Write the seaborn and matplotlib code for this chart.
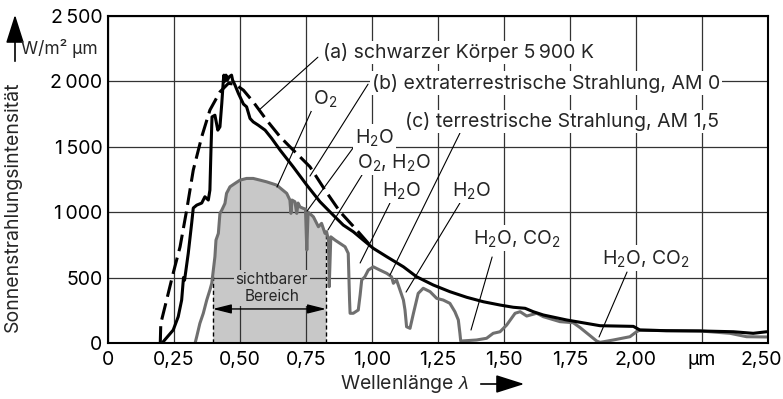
import numpy as np
import pandas as pd
import matplotlib
matplotlib.use("Agg")
import matplotlib.pyplot as plt
import matplotlib.transforms as mtransforms
import seaborn as sns

# wavelength (µm) and spectral intensity (W/m² µm)
bb_wl = [0.198, 0.200, 0.222, 0.247, 0.273, 0.298, 0.323, 0.355, 0.386, 0.424, 0.456,
         0.481, 0.513, 0.550, 0.601, 0.652, 0.689, 0.765, 0.822, 0.879, 0.942, 0.992]
bb_int = [0, 150, 328, 534, 735, 1015, 1321, 1575, 1779, 1918, 1983,
          1977, 1931, 1842, 1702, 1575, 1499, 1346, 1168, 1002, 863, 748]

am0_wl = [0.205, 0.247, 0.266, 0.279, 0.286, 0.290, 0.304, 0.317, 0.323, 0.336, 0.355,
          0.367, 0.380, 0.386, 0.390, 0.394, 0.405, 0.416, 0.424, 0.431, 0.437, 0.439,
          0.443, 0.447, 0.452, 0.459, 0.468, 0.472, 0.481, 0.494, 0.513, 0.525, 0.538,
          0.550, 0.569, 0.595, 0.620, 0.652, 0.702, 0.753, 0.803, 0.853, 0.891, 0.929,
          0.967, 1.005, 1.056, 1.119, 1.169, 1.232, 1.295, 1.359, 1.422, 1.485, 1.535,
          1.580, 1.611, 1.649, 1.737, 1.864, 1.990, 2.015, 2.116, 2.242, 2.369, 2.444, 2.495]
am0_int = [0, 99, 201, 328, 500, 480, 685, 916, 1031, 1053, 1069,
           1117, 1092, 1168, 1473, 1727, 1740, 1626, 1651, 1830, 2008, 2046,
           2000, 2046, 2008, 2033, 2046, 2008, 1970, 1906, 1825, 1804, 1715,
           1689, 1664, 1626, 1563, 1473, 1344, 1206, 1079, 977, 901, 850,
           786, 723, 659, 582, 506, 443, 392, 349, 315, 290, 273,
           265, 239, 214, 176, 132, 127, 99, 94, 92, 86, 74, 86]

am15_wl = [0.330, 0.336, 0.348, 0.361, 0.374, 0.386, 0.393, 0.405, 0.409, 0.418, 0.424,
           0.431, 0.443, 0.449, 0.462, 0.481, 0.500, 0.525, 0.550, 0.576, 0.601, 0.639,
           0.677, 0.689, 0.693, 0.697, 0.708, 0.715, 0.720, 0.727, 0.740, 0.748, 0.753,
           0.758, 0.778, 0.797, 0.809, 0.822, 0.828, 0.835, 0.838, 0.844, 0.860, 0.898,
           0.910, 0.915, 0.917, 0.929, 0.948, 0.955, 0.961, 0.973, 0.986, 1.005, 1.030,
           1.056, 1.074, 1.081, 1.093, 1.106, 1.119, 1.125, 1.131, 1.144, 1.157, 1.175,
           1.194, 1.220, 1.245, 1.270, 1.295, 1.314, 1.327, 1.333, 1.336, 1.359, 1.396,
           1.434, 1.459, 1.485, 1.510, 1.542, 1.561, 1.586, 1.624, 1.649, 1.712, 1.762,
           1.788, 1.851, 1.864, 1.914, 1.977, 2.002, 2.015, 2.116, 2.242, 2.356, 2.419, 2.495]
am15_int = [0, 48, 150, 227, 328, 405, 456, 659, 786, 837, 990,
            1015, 1066, 1143, 1193, 1219, 1244, 1257, 1257, 1244, 1231, 1206,
            1143, 1092, 990, 1092, 1079, 990, 1069, 1040, 1028, 1023, 710,
            1000, 964, 888, 914, 837, 850, 786, 430, 811, 786, 735,
            685, 328, 227, 227, 252, 366, 481, 506, 557, 582, 557,
            532, 506, 456, 481, 405, 328, 252, 124, 112, 227, 379,
            418, 392, 341, 328, 303, 239, 176, 74, 15, 18, 23,
            36, 74, 86, 137, 227, 239, 206, 227, 201, 163, 155,
            118, 15, 5, 23, 48, 86, 99, 94, 92, 74, 48, 46]

x_ticks = [0, 0.25, 0.5, 0.75, 1.0, 1.25, 1.5, 1.75, 2.0, 2.25, 2.5]
x_labels = ["0", "0,25", "0,50", "0,75", "1,00", "1,25", "1,50", "1,75", "2,00", "µm", "2,50"]
y_ticks = [0, 500, 1000, 1500, 2000, 2500]
y_labels = ["0", "500", "1\u2009000", "1\u2009500", "2\u2009000", "2\u2009500"]

visible_range = (0.397, 0.826)

H2O = r"H$_\mathregular{2}$O"
# label text, text anchor (left, centre), leader line start, leader line end
labels = [
    ("(a) schwarzer Körper 5\u2009900 K", (0.814, 2221), (0.795, 2183), (0.572, 1779)),
    ("(b) extraterrestrische Strahlung, AM 0", (1.0, 1985), (0.985, 1977), (0.765, 1275)),
    ("(c) terrestrische Strahlung, AM 1,5", (1.125, 1690), (1.333, 1603), (1.068, 519)),
    (r"O$_\mathregular{2}$", (0.777, 1870), (0.777, 1802), (0.640, 1191)),
    (H2O, (0.936, 1573), (0.928, 1489), (0.754, 1008)),
    (r"O$_\mathregular{2}$, " + H2O, (0.943, 1382), (0.962, 1283), (0.833, 863)),
    (H2O, (1.038, 1168), (1.068, 1069), (0.955, 611)),
    (H2O, (1.303, 1168), (1.333, 1069), (1.129, 389)),
    (H2O + r", CO$_\mathregular{2}$", (1.383, 802), (1.455, 657), (1.375, 99)),
    (H2O + r", CO$_\mathregular{2}$", (1.871, 649), (1.966, 542), (1.860, 46)),
]

FS = 14

sns.set_style("white")
plt.rcParams["font.family"] = ["Inter", "DejaVu Sans"]
plt.rcParams["mathtext.fontset"] = "custom"
plt.rcParams["mathtext.rm"] = "Inter"
plt.rcParams["mathtext.it"] = "Liberation Sans:italic"

fig = plt.figure(figsize=(7.83, 3.99), dpi=100)
ax = fig.add_axes([108 / 783, 56 / 399, 660 / 783, 327.3 / 399])

bb = pd.DataFrame({"wl": bb_wl, "I": bb_int})
am0 = pd.DataFrame({"wl": am0_wl, "I": am0_int})
am15 = pd.DataFrame({"wl": am15_wl, "I": am15_int})

# visible band, filled under the terrestrial curve
lo, hi = visible_range
inside = am15[(am15.wl > lo) & (am15.wl < hi)]
fx = np.r_[lo, inside.wl, hi]
fy = np.r_[np.interp(lo, am15.wl, am15.I), inside.I, np.interp(hi, am15.wl, am15.I)]
ax.fill_between(fx, 0, fy, color="#c8c8c8", lw=0, zorder=0.8)
ax.vlines([lo, hi], 0, [fy[0], fy[-1]], colors="black", linestyles=(0, (3, 2)), lw=1, zorder=2)

sns.lineplot(data=am15, x="wl", y="I", color="#6f6f6f", lw=2.2, sort=False,
             estimator=None, ax=ax, zorder=3)
sns.lineplot(data=am0, x="wl", y="I", color="black", lw=2.2, sort=False,
             estimator=None, ax=ax, zorder=4)
sns.lineplot(data=bb, x="wl", y="I", color="black", lw=2.2, sort=False,
             estimator=None, ax=ax, zorder=4)
ax.lines[-1].set_dashes([5.5, 2.2])

ax.set_xlim(0, 2.5)
ax.set_ylim(0, 2500)
ax.set_xticks(x_ticks, x_labels)
ax.set_yticks(y_ticks, y_labels)
ax.tick_params(length=0, labelsize=FS, colors="black")
ax.tick_params(axis="x", pad=6)
ax.tick_params(axis="y", pad=4)
ax.set_xlabel("")
ax.set_ylabel("")
# last tick label pulled left so it stays inside the figure
last = ax.get_xticklabels()[-1]
last.set_transform(last.get_transform()
                   + mtransforms.ScaledTranslation(-7 / 100, 0, fig.dpi_scale_trans))
ax.set_axisbelow(False)
ax.grid(True, color="#333333", lw=0.9)
for s in ax.spines.values():
    s.set_color("black")
    s.set_linewidth(1.5)
    s.set_zorder(6)

# leader lines and labels
for text, (tx, ty), (x0, y0), (x1, y1) in labels:
    ax.plot([x0, x1], [y0, y1], color="black", lw=0.8, zorder=4.5)
    ax.text(tx, ty, text, fontsize=FS, va="center", ha="left", zorder=5,
            bbox=dict(facecolor="white", edgecolor="none", pad=1.5))

# visible range marker
ax.text(0.621, 420, "sichtbarer\nBereich", fontsize=11, ha="center", va="center",
        linespacing=1.1, zorder=5,
        bbox=dict(facecolor="#c8c8c8", edgecolor="none", pad=1.5))
ax.annotate("", xy=(lo, 260), xytext=(hi, 260),
            arrowprops=dict(arrowstyle="<|-|>,head_length=0.8,head_width=0.2",
                            color="black", lw=1, shrinkA=0, shrinkB=0,
                            mutation_scale=14), zorder=5)

# axis titles
fig.text(13 / 783, 1 - 207 / 399, "Sonnenstrahlungsintensität", rotation=90,
         fontsize=FS, ha="center", va="center")
fig.text(21 / 783, 1 - 49 / 399, "W/m² µm", fontsize=12.5, ha="left", va="center")
fig.add_artist(matplotlib.patches.FancyArrowPatch(
    (15, 399 - 64), (15, 399 - 12), transform=None,
    arrowstyle="-|>,head_length=1.1,head_width=0.35", mutation_scale=16,
    color="black", lw=1.2))
fig.text(340 / 783, 1 - 384 / 399, r"Wellenlänge $\lambda$", fontsize=FS,
         ha="left", va="center")
fig.add_artist(matplotlib.patches.FancyArrowPatch(
    (478, 399 - 384), (527, 399 - 384), transform=None,
    arrowstyle="-|>,head_length=1.1,head_width=0.35", mutation_scale=16,
    color="black", lw=1.2))

fig.savefig("out.png", dpi=100)
